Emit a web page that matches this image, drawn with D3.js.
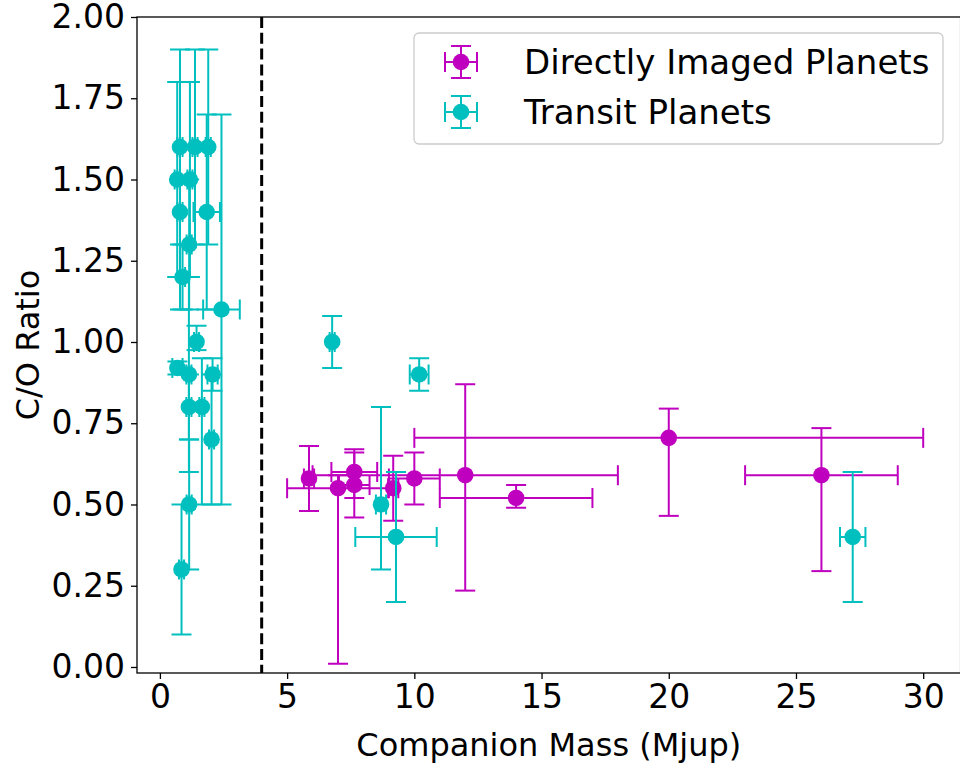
<!DOCTYPE html>
<html>
<head>
<meta charset="utf-8">
<script src="https://cdn.jsdelivr.net/npm/d3@7/dist/d3.min.js"></script>
<style>
  body { margin: 0; background: #fff; }
  text { font-family: "DejaVu Sans", sans-serif; }
</style>
</head>
<body>
<script>
// directly imaged planets: mass (Mjup) and C/O with asymmetric errors
var diMass      = [5.86, 7.0, 7.64, 7.64, 9.17, 10.0, 12.0, 14.0, 20.0, 26.0];
var diMassLo    = [0.2,  2.0, 0.9,  0.6,  0.2,  1.0,  6.0,  3.0,  10.0, 3.0];
var diMassHi    = [0.2,  2.0, 0.9,  0.6,  0.2,  1.0,  6.0,  3.0,  10.0, 3.0];
var diCO        = [0.58, 0.55, 0.60, 0.56, 0.55, 0.58, 0.59, 0.52, 0.705, 0.59];
var diCOLo      = [0.10, 0.54, 0.08, 0.10, 0.10, 0.08, 0.355, 0.03, 0.24, 0.295];
var diCOHi      = [0.10, 0.04, 0.07, 0.10, 0.10, 0.08, 0.28, 0.04, 0.09, 0.145];

// transit planets
var trMass   = [0.79, 1.38, 1.90, 0.68, 1.18, 0.79, 1.84, 1.15, 0.89, 2.42, 1.44, 0.69, 1.14, 2.07, 1.14, 1.65, 2.03, 1.15, 0.85, 6.77, 10.19, 8.69, 9.28, 27.23];
var trMassLo = [0.1,  0.1,  0.1,  0.1,  0.1,  0.1,  0.52, 0.1,  0.1,  0.72, 0.1,  0.2,  0.1,  0.2,  0.1,  0.1,  0.1,  0.1,  0.1,  0.1,  0.37,  0.2,  1.6,  0.5];
var trMassHi = [0.1,  0.1,  0.1,  0.1,  0.1,  0.1,  0.52, 0.1,  0.1,  0.72, 0.1,  0.2,  0.1,  0.2,  0.1,  0.1,  0.1,  0.1,  0.1,  0.1,  0.37,  0.2,  1.6,  0.5];
var trCO     = [1.6,  1.6,  1.6,  1.5,  1.5,  1.4,  1.4,  1.3,  1.2,  1.1,  1.0,  0.92, 0.9,  0.9,  0.8,  0.8,  0.7,  0.5,  0.3,  1.0,  0.9,   0.5,  0.4,  0.4];
var trCOLo   = [0.3,  0.3,  0.3,  0.3,  0.3,  0.3,  0.3,  0.2,  0.1,  0.6,  0.025, 0.02, 0.3, 0.05, 0.1,  0.3,  0.2,  0.2,  0.2,  0.08, 0.05,  0.2,  0.2,  0.2];
var trCOHi   = [0.3,  0.3,  0.3,  0.3,  0.3,  0.4,  0.3,  0.2,  0.1,  0.6,  0.05, 0.02, 0.3,  0.05, 0.1,  0.15, 0.2,  0.2,  0.2,  0.08, 0.05,  0.3,  0.2,  0.2];

var xTicks = [0, 5, 10, 15, 20, 25, 30];
var yTicks = [0, 0.25, 0.5, 0.75, 1.0, 1.25, 1.5, 1.75, 2.0];

var W = 960, H = 765;
var pLeft = 137, pRight = 960.6, pTop = 17, pBottom = 673;

var svg = d3.select("body").append("svg").attr("width", W).attr("height", H);

var x = d3.scaleLinear().domain([-0.9, 31.47]).range([pLeft, pRight]);
var y = d3.scaleLinear().domain([-0.0185, 2.0]).range([pBottom, pTop]);

var magenta = "#bf00bf", cyan = "#00bfbf";
var cap = 10;

function rows(m, mlo, mhi, c, clo, chi) {
  return m.map(function (d, i) {
    return { m: d, mlo: mlo[i], mhi: mhi[i], c: c[i], clo: clo[i], chi: chi[i] };
  });
}

function drawSeries(data, color, cls) {
  var g = svg.append("g").attr("class", cls);
  var bars = g.append("g").attr("stroke", color).attr("stroke-width", 2).attr("fill", "none");

  bars.selectAll("line.v").data(data).enter().append("line").attr("class", "v")
      .attr("x1", function (d) { return x(d.m); })
      .attr("x2", function (d) { return x(d.m); })
      .attr("y1", function (d) { return y(d.c - d.clo); })
      .attr("y2", function (d) { return y(d.c + d.chi); });
  bars.selectAll("line.h").data(data).enter().append("line").attr("class", "h")
      .attr("x1", function (d) { return x(d.m - d.mlo); })
      .attr("x2", function (d) { return x(d.m + d.mhi); })
      .attr("y1", function (d) { return y(d.c); })
      .attr("y2", function (d) { return y(d.c); });

  // caps on the C/O bars
  [function (d) { return d.c - d.clo; }, function (d) { return d.c + d.chi; }].forEach(function (f, k) {
    bars.selectAll("line.cy" + k).data(data).enter().append("line").attr("class", "cy" + k)
        .attr("x1", function (d) { return x(d.m) - cap; })
        .attr("x2", function (d) { return x(d.m) + cap; })
        .attr("y1", function (d) { return y(f(d)); })
        .attr("y2", function (d) { return y(f(d)); });
  });
  // caps on the mass bars
  [function (d) { return d.m - d.mlo; }, function (d) { return d.m + d.mhi; }].forEach(function (f, k) {
    bars.selectAll("line.cx" + k).data(data).enter().append("line").attr("class", "cx" + k)
        .attr("x1", function (d) { return x(f(d)); })
        .attr("x2", function (d) { return x(f(d)); })
        .attr("y1", function (d) { return y(d.c) - cap; })
        .attr("y2", function (d) { return y(d.c) + cap; });
  });

  g.selectAll("circle").data(data).enter().append("circle")
      .attr("cx", function (d) { return x(d.m); })
      .attr("cy", function (d) { return y(d.c); })
      .attr("r", 8.3)
      .attr("fill", color);
}

drawSeries(rows(diMass, diMassLo, diMassHi, diCO, diCOLo, diCOHi), magenta, "direct");
drawSeries(rows(trMass, trMassLo, trMassHi, trCO, trCOLo, trCOHi), cyan, "transit");

// dashed divider at 4 Mjup
svg.append("line")
    .attr("x1", x(4)).attr("x2", x(4))
    .attr("y1", pTop).attr("y2", pBottom)
    .attr("stroke", "black").attr("stroke-width", 3)
    .attr("stroke-dasharray", "11,4.8");

// axes
var xAxis = svg.append("g").attr("transform", "translate(0," + pBottom + ")")
    .call(d3.axisBottom(x).tickValues(xTicks).tickSize(6).tickPadding(6).tickFormat(d3.format("d")));
var yAxis = svg.append("g").attr("transform", "translate(" + pLeft + ",0)")
    .call(d3.axisLeft(y).tickValues(yTicks).tickSize(6).tickPadding(6).tickFormat(d3.format(".2f")));

[xAxis, yAxis].forEach(function (a) {
  a.select(".domain").remove();
  a.selectAll(".tick line").attr("stroke", "black").attr("stroke-width", 1.3);
  a.selectAll(".tick text").attr("fill", "black").style("font-size", "33px")
      .style("font-family", "DejaVu Sans, sans-serif");
});

svg.append("rect")
    .attr("x", pLeft).attr("y", pTop)
    .attr("width", pRight - pLeft).attr("height", pBottom - pTop)
    .attr("fill", "none").attr("stroke", "black").attr("stroke-width", 1.3);

svg.append("text")
    .attr("x", (pLeft + pRight) / 2).attr("y", 756)
    .attr("text-anchor", "middle").style("font-size", "32px")
    .text("Companion Mass (Mjup)");

svg.append("text")
    .attr("transform", "translate(39," + (pTop + pBottom) / 2 + ") rotate(-90)")
    .attr("text-anchor", "middle").style("font-size", "32px")
    .text("C/O Ratio");

// legend
var legendItems = ["Directly Imaged Planets", "Transit Planets"];
var legendColors = [magenta, cyan];

var lg = svg.append("g");
lg.append("rect")
    .attr("x", 414).attr("y", 33).attr("width", 529).attr("height", 111)
    .attr("rx", 5).attr("fill", "white").attr("fill-opacity", 0.8)
    .attr("stroke", "#cccccc").attr("stroke-width", 1.3);

var entry = lg.selectAll("g.entry").data(legendItems).enter().append("g")
    .attr("class", "entry")
    .attr("transform", function (d, i) { return "translate(461," + (62 + i * 50) + ")"; });

entry.each(function (d, i) {
  var e = d3.select(this);
  var c = legendColors[i];
  var s = e.append("g").attr("stroke", c).attr("stroke-width", 2);
  s.append("line").attr("x1", -16).attr("x2", 16).attr("y1", 0).attr("y2", 0);
  s.append("line").attr("x1", 0).attr("x2", 0).attr("y1", -16).attr("y2", 16);
  s.append("line").attr("x1", -16).attr("x2", -16).attr("y1", -10).attr("y2", 10);
  s.append("line").attr("x1", 16).attr("x2", 16).attr("y1", -10).attr("y2", 10);
  s.append("line").attr("x1", -10).attr("x2", 10).attr("y1", -16).attr("y2", -16);
  s.append("line").attr("x1", -10).attr("x2", 10).attr("y1", 16).attr("y2", 16);
  e.append("circle").attr("r", 8.3).attr("fill", c);
  e.append("text").attr("x", 63).attr("y", 0).attr("dy", "0.35em")
      .style("font-size", "34px").text(d);
});
</script>
</body>
</html>
